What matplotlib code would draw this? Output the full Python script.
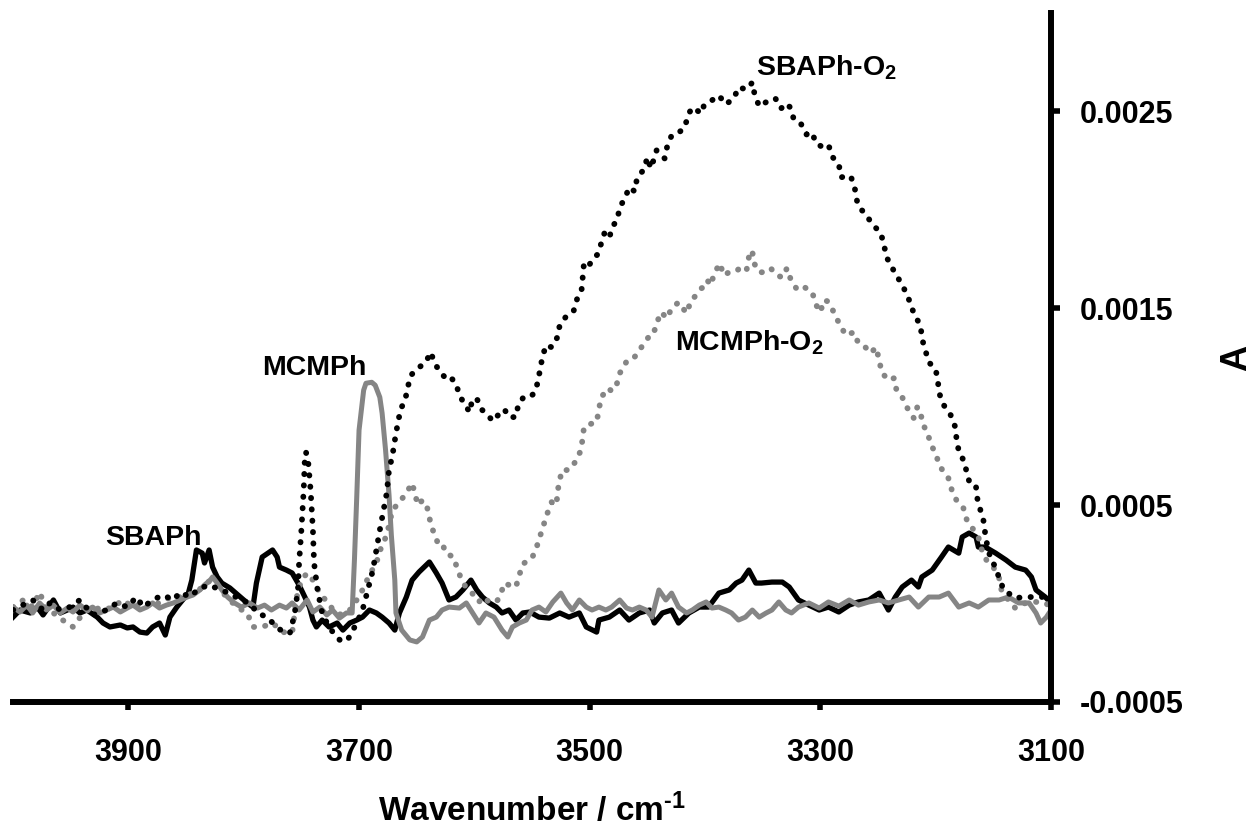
import numpy as np
import matplotlib
matplotlib.use("Agg")
import matplotlib.pyplot as plt

# IR difference spectra, absorbance values read in units of 1e-4
sbaph_wn = [4000, 3994, 3985, 3979, 3974, 3965, 3959, 3953, 3948, 3942,
            3936, 3927, 3922, 3916, 3907, 3901, 3896, 3890, 3884, 3879,
            3873, 3868, 3864, 3858, 3853, 3848, 3845, 3841, 3836, 3834,
            3830, 3827, 3823, 3819, 3812, 3803, 3797, 3792, 3789, 3784,
            3779, 3775, 3771, 3769, 3763, 3758, 3752, 3747, 3743, 3740,
            3737, 3732, 3726, 3719, 3714, 3708, 3702, 3697, 3691, 3685,
            3680, 3674, 3669, 3665, 3659, 3654, 3648, 3639, 3633, 3628,
            3622, 3616, 3610, 3603, 3598, 3593, 3587, 3581, 3576, 3570,
            3564, 3558, 3552, 3544, 3535, 3526, 3518, 3509, 3503, 3494,
            3492, 3483, 3474, 3466, 3457, 3448, 3444, 3437, 3429, 3423,
            3414, 3405, 3397, 3388, 3379, 3373, 3368, 3362, 3356, 3351,
            3342, 3333, 3327, 3319, 3310, 3301, 3293, 3284, 3275, 3267,
            3258, 3249, 3241, 3235, 3229, 3221, 3215, 3212, 3203, 3195,
            3189, 3180, 3177, 3171, 3165, 3163, 3157, 3148, 3139, 3131,
            3122, 3117, 3113, 3105, 3100]
sbaph_a = [-0.69, -0.33, -0.48, -0.18, -0.58, 0.18, -0.48, -0.33, -0.18, -0.48,
           -0.33, -0.69, -0.99, -1.19, -1.09, -1.24, -1.19, -1.45, -1.50, -1.19,
           -0.99, -1.60, -0.69, -0.18, 0.18, 0.53, 1.19, 2.72, 2.56, 2.06,
           2.72, 1.85, 1.35, 1.04, 0.79, 0.33, 0.03, -0.18, 1.04, 2.36,
           2.56, 2.72, 2.36, 1.85, 1.70, 1.55, 0.94, 0.33, -0.18, -0.84,
           -1.19, -0.84, -1.19, -0.99, -1.35, -0.99, -0.84, -0.69, -0.33, -0.48,
           -0.69, -0.99, -1.35, -0.48, 0.33, 1.19, 1.60, 2.11, 1.55, 1.04,
           0.18, 0.33, 0.69, 1.19, 0.69, 0.33, 0.03, -0.18, -0.48, -0.33,
           -0.84, -0.48, -0.43, -0.69, -0.74, -0.48, -0.69, -0.48, -1.19, -1.45,
           -0.84, -0.69, -0.33, -0.84, -0.48, -0.33, -0.99, -0.48, -0.33, -0.99,
           -0.48, -0.18, -0.18, 0.53, 0.69, 1.04, 1.19, 1.70, 1.04, 1.04,
           1.09, 1.09, 0.84, 0.18, -0.08, -0.33, -0.18, -0.43, -0.08, 0.08,
           0.18, 0.53, -0.33, 0.33, 0.84, 1.19, 0.84, 1.35, 1.70, 2.36,
           2.87, 2.56, 3.38, 3.58, 3.38, 2.87, 2.87, 2.56, 2.21, 1.85,
           1.70, 1.35, 0.69, 0.33, 0.03]

mcmph_wn = [4000, 3994, 3988, 3983, 3977, 3971, 3965, 3959, 3953, 3948,
            3942, 3936, 3931, 3925, 3919, 3913, 3907, 3901, 3896, 3890,
            3884, 3879, 3873, 3867, 3861, 3855, 3849, 3844, 3838, 3834,
            3829, 3827, 3823, 3819, 3814, 3808, 3802, 3795, 3788, 3782,
            3776, 3769, 3763, 3758, 3752, 3745, 3740, 3734, 3728, 3723,
            3717, 3711, 3706, 3704, 3702, 3700, 3696, 3694, 3689, 3686,
            3682, 3680, 3677, 3674, 3672, 3669, 3668, 3663, 3656, 3650,
            3645, 3639, 3633, 3628, 3622, 3613, 3607, 3602, 3596, 3590,
            3583, 3576, 3571, 3567, 3561, 3555, 3550, 3544, 3538, 3532,
            3525, 3520, 3515, 3509, 3503, 3498, 3492, 3486, 3481, 3474,
            3468, 3463, 3457, 3451, 3446, 3440, 3434, 3429, 3423, 3416,
            3411, 3405, 3399, 3394, 3388, 3382, 3377, 3371, 3365, 3359,
            3353, 3347, 3342, 3336, 3330, 3325, 3319, 3310, 3301, 3293,
            3284, 3275, 3267, 3258, 3249, 3241, 3232, 3223, 3215, 3206,
            3197, 3189, 3180, 3171, 3163, 3154, 3145, 3137, 3128, 3119,
            3113, 3109, 3104, 3100]
mcmph_a = [-0.18, -0.43, -0.08, -0.48, 0.03, -0.33, -0.08, -0.48, -0.23, -0.43,
           -0.08, -0.33, -0.18, -0.48, -0.33, -0.18, -0.43, -0.23, -0.08, -0.33,
           -0.18, 0.03, -0.23, -0.08, 0.03, 0.18, 0.33, 0.43, 0.69, 0.94,
           1.19, 1.35, 1.04, 0.69, 0.33, 0.03, -0.18, 0.03, -0.23, -0.08,
           -0.33, -0.08, -0.23, 0.03, -0.33, 0.18, -0.43, -0.18, -0.58, -0.33,
           -0.74, -0.48, -0.48, 2.21, 5.41, 8.81, 10.84, 11.19, 11.24, 11.09,
           10.48, 9.67, 7.79, 5.51, 3.48, 1.19, -0.48, -1.35, -1.85, -1.95,
           -1.70, -0.84, -0.69, -0.33, -0.18, -0.23, 0.03, -0.43, -0.99, -0.48,
           -0.69, -1.35, -1.70, -1.19, -0.99, -0.84, -0.33, -0.18, -0.43, 0.08,
           0.53, 0.03, -0.33, 0.18, -0.18, -0.33, -0.18, -0.33, -0.18, 0.18,
           -0.23, -0.33, -0.18, -0.33, -0.69, 0.69, 0.18, 0.53, -0.18, -0.48,
           -0.33, -0.08, 0.08, -0.23, -0.18, -0.33, -0.48, -0.84, -0.69, -0.33,
           -0.69, -0.48, -0.33, 0.08, -0.33, -0.48, -0.18, 0.03, -0.23, 0.08,
           -0.13, 0.18, -0.08, 0.08, 0.18, 0.03, 0.18, 0.33, -0.18, 0.33,
           0.33, 0.53, -0.18, 0.03, -0.18, 0.18, 0.18, 0.33, 0.03, 0.03,
           -0.48, -0.99, -0.69, -0.33]

sbaph_o2_wn = [4000, 3988, 3983, 3974, 3968, 3959, 3951, 3942, 3931, 3919,
               3910, 3901, 3893, 3887, 3879, 3870, 3861, 3855, 3847, 3838,
               3829, 3821, 3812, 3803, 3795, 3788, 3780, 3773, 3766, 3760,
               3756, 3753, 3752, 3750, 3748, 3747, 3746, 3744, 3742, 3740,
               3739, 3736, 3732, 3727, 3721, 3715, 3709, 3702, 3697, 3694,
               3688, 3682, 3676, 3674, 3671, 3668, 3664, 3660, 3658, 3655,
               3649, 3642, 3638, 3634, 3629, 3623, 3620, 3616, 3613, 3608,
               3604, 3602, 3598, 3594, 3589, 3584, 3578, 3574, 3570, 3564,
               3562, 3558, 3553, 3548, 3545, 3543, 3541, 3538, 3533, 3528,
               3526, 3521, 3514, 3511, 3507, 3506, 3505, 3501, 3497, 3493,
               3490, 3487, 3483, 3480, 3476, 3474, 3469, 3466, 3461, 3459,
               3453, 3450, 3447, 3445, 3442, 3435, 3433, 3429, 3424, 3418,
               3414, 3411, 3403, 3401, 3397, 3392, 3388, 3382, 3375, 3371,
               3364, 3359, 3357, 3353, 3346, 3339, 3334, 3330, 3326, 3323,
               3317, 3312, 3307, 3304, 3299, 3293, 3290, 3284, 3282, 3275,
               3273, 3270, 3268, 3265, 3261, 3255, 3248, 3245, 3243, 3238,
               3234, 3228, 3223, 3219, 3213, 3212, 3209, 3206, 3200, 3198,
               3197, 3193, 3187, 3183, 3182, 3180, 3175, 3173, 3170, 3165,
               3164, 3161, 3158, 3157, 3155, 3152, 3148, 3145, 3141, 3137,
               3131, 3122, 3117, 3108, 3100]
sbaph_o2_a = [-0.33, 0.03, 0.18, -0.33, 0.03, -0.33, -0.18, 0.18, -0.58, -0.33,
              0.03, -0.18, 0.33, -0.18, 0.18, 0.43, 0.18, 0.58, 0.33, 0.79,
              0.94, 0.69, 0.53, 0.18, 0.03, -0.48, -0.69, -1.09, -1.45, -1.50,
              -0.58, 0.69, 2.06, 3.73, 5.76, 7.39, 7.69, 7.13, 5.76, 3.73,
              2.06, 0.69, -0.48, -1.09, -1.60, -1.95, -1.75, -0.99, -0.33, 0.33,
              1.70, 3.73, 5.61, 6.78, 7.54, 8.65, 9.87, 10.33, 10.94, 11.60,
              11.95, 12.26, 12.77, 12.16, 11.70, 11.35, 11.45, 11.19, 10.58, 10.08,
              9.72, 10.33, 10.43, 9.87, 9.62, 9.26, 9.67, 9.87, 9.47, 9.47,
              10.08, 10.43, 10.43, 10.69, 11.24, 11.90, 12.51, 13.12, 13.02, 13.53,
              14.14, 14.54, 14.85, 15.46, 15.96, 16.62, 17.28, 17.13, 17.54, 17.74,
              18.30, 18.86, 18.60, 19.16, 19.52, 20.13, 20.63, 21.14, 20.94, 21.60,
              22.06, 22.66, 22.11, 22.46, 23.02, 22.61, 23.17, 23.78, 23.88, 24.14,
              24.90, 25.20, 24.90, 25.30, 25.41, 25.66, 25.81, 25.36, 25.66, 26.22,
              26.12, 26.47, 25.86, 25.25, 25.51, 25.66, 25.15, 25.41, 25.20, 24.59,
              24.39, 23.83, 23.93, 23.38, 23.22, 23.32, 22.72, 22.31, 21.65, 21.75,
              21.60, 21.04, 20.38, 20.03, 19.82, 19.26, 18.86, 18.30, 17.64, 17.08,
              16.68, 16.07, 15.41, 14.75, 14.09, 13.48, 12.87, 12.26, 11.90, 11.24,
              10.69, 10.08, 9.57, 8.96, 8.40, 7.74, 7.18, 6.62, 6.02, 5.91,
              5.36, 4.70, 4.09, 3.48, 2.87, 2.21, 1.85, 1.29, 0.69, 0.53,
              0.28, 0.33, 0.33, 0.33, 0.50]

mcmph_o2_wn = [4000, 3991, 3983, 3977, 3971, 3965, 3957, 3948, 3939, 3931,
               3922, 3913, 3905, 3896, 3887, 3879, 3870, 3861, 3853, 3844,
               3835, 3829, 3823, 3818, 3812, 3806, 3797, 3792, 3784, 3775,
               3766, 3758, 3754, 3750, 3745, 3740, 3734, 3727, 3721, 3715,
               3708, 3702, 3697, 3691, 3685, 3681, 3676, 3671, 3665, 3659,
               3654, 3649, 3645, 3641, 3639, 3636, 3632, 3628, 3625, 3618,
               3615, 3611, 3607, 3602, 3596, 3593, 3587, 3581, 3578, 3574,
               3570, 3564, 3561, 3558, 3550, 3546, 3543, 3540, 3537, 3533,
               3529, 3527, 3524, 3518, 3512, 3508, 3506, 3505, 3500, 3494,
               3492, 3490, 3484, 3481, 3477, 3474, 3471, 3468, 3463, 3459,
               3453, 3449, 3445, 3442, 3438, 3433, 3429, 3423, 3416, 3412,
               3410, 3403, 3401, 3398, 3395, 3392, 3387, 3384, 3379, 3373,
               3369, 3364, 3362, 3359, 3358, 3353, 3349, 3343, 3338, 3333,
               3329, 3326, 3321, 3316, 3310, 3307, 3304, 3300, 3297, 3294,
               3290, 3286, 3278, 3271, 3267, 3261, 3256, 3252, 3249, 3247,
               3241, 3236, 3234, 3229, 3225, 3219, 3216, 3213, 3212, 3207,
               3204, 3200, 3197, 3193, 3189, 3186, 3182, 3176, 3173, 3167,
               3163, 3160, 3156, 3150, 3145, 3143, 3139, 3131, 3122, 3113,
               3105, 3100]
mcmph_o2_a = [-0.18, 0.18, -0.18, 0.58, -0.33, -0.48, -0.84, -1.19, -0.48, -0.18,
              -0.33, -0.18, 0.18, -0.18, 0.03, -0.18, 0.18, 0.33, 0.33, 0.53,
              0.84, 1.19, 0.94, 0.53, 0.18, -0.18, -0.48, -1.19, -1.19, -0.99,
              -1.45, -1.50, 0.33, 1.19, 1.55, 1.19, 0.53, 0.03, -0.43, -0.58,
              -0.33, 0.18, 0.69, 1.45, 2.06, 2.82, 3.48, 4.75, 5.15, 5.61,
              6.12, 5.00, 5.25, 4.90, 4.34, 3.73, 3.12, 3.12, 2.56, 2.36,
              1.80, 1.19, 0.79, 0.53, 0.08, 0.33, 0.08, 0.08, 0.33, 1.04,
              0.94, 0.84, 1.45, 2.01, 2.31, 2.87, 3.43, 3.98, 4.54, 5.15,
              5.00, 6.02, 6.78, 6.78, 7.23, 7.74, 8.40, 8.96, 9.11, 9.21,
              9.87, 10.48, 10.94, 10.79, 11.04, 11.70, 11.95, 12.31, 12.41, 12.66,
              13.22, 13.53, 13.63, 14.24, 14.80, 14.49, 15.00, 15.30, 14.75, 15.41,
              15.51, 16.02, 16.07, 16.42, 16.17, 16.78, 17.28, 16.68, 16.83, 16.88,
              17.08, 16.93, 17.59, 17.94, 17.34, 16.83, 16.83, 17.03, 16.68, 16.57,
              17.03, 16.52, 16.02, 16.17, 15.91, 15.81, 15.20, 14.80, 15.41, 15.36,
              15.00, 14.49, 13.63, 13.78, 13.22, 13.02, 12.72, 13.02, 12.41, 11.75,
              11.35, 11.45, 10.84, 10.48, 9.97, 9.42, 9.97, 9.82, 9.21, 8.65,
              8.05, 7.64, 7.03, 6.68, 6.37, 5.76, 5.25, 4.85, 4.24, 3.73,
              3.38, 2.72, 2.21, 1.85, 1.29, 0.69, 0.33, -0.23, 0.03, 0.08,
              0.03, -0.18]

ytick_vals = [-0.0005, 0.0005, 0.0015, 0.0025]
ytick_labels = ['-0.0005', '0.0005', '0.0015', '0.0025']
xtick_vals = [3900, 3700, 3500, 3300, 3100]

plt.rcParams['font.family'] = ['Liberation Sans', 'DejaVu Sans']
plt.rcParams['font.weight'] = 'bold'
plt.rcParams['mathtext.fontset'] = 'custom'
plt.rcParams['mathtext.rm'] = 'Liberation Sans:bold'
plt.rcParams['mathtext.bf'] = 'Liberation Sans:bold'
plt.rcParams['mathtext.default'] = 'bf'

fig = plt.figure(figsize=(12.56, 8.32), dpi=100)
ax = fig.add_axes([0.0104, 0.1563, 0.8264, 0.8281])

grey = '#858585'
dots = (0, (0.05, 1.9))
scale = 1e-4

ax.plot(sbaph_wn, np.array(sbaph_a) * scale, color='black', lw=3.8,
        solid_joinstyle='round')
ax.plot(mcmph_wn, np.array(mcmph_a) * scale, color=grey, lw=3.6,
        solid_joinstyle='round')
ax.plot(mcmph_o2_wn, np.array(mcmph_o2_a) * scale, color=grey, lw=4.2,
        linestyle=dots, dash_capstyle='round')
ax.plot(sbaph_o2_wn, np.array(sbaph_o2_a) * scale, color='black', lw=4.2,
        linestyle=dots, dash_capstyle='round')

ax.set_xlim(4000, 3100)
ax.set_ylim(-0.0005, 0.003)

for s in ['top', 'left']:
    ax.spines[s].set_visible(False)
for s in ['bottom', 'right']:
    ax.spines[s].set_linewidth(4.3)
    ax.spines[s].set_capstyle('projecting')

ax.yaxis.tick_right()
ax.yaxis.set_label_position('right')
ax.set_xticks(xtick_vals)
ax.set_xticklabels([str(v) for v in xtick_vals])
ax.set_yticks(ytick_vals)
ax.set_yticklabels(ytick_labels)
ax.tick_params(axis='x', direction='out', length=6, width=4, pad=20,
               labelsize=22)
ax.tick_params(axis='y', direction='out', length=6.5, width=4, pad=14,
               labelsize=22)

ax.set_xlabel(r'Wavenumber / cm$^{\text{-}1}$', fontsize=24, fontweight='bold',
              labelpad=18)
ax.set_ylabel('A', fontsize=26, fontweight='bold', labelpad=26)

ax.text(3920, 2.97e-4, 'SBAPh', fontsize=20.5, fontweight='bold', va='baseline')
ax.text(3784, 11.6e-4, 'MCMPh', fontsize=20.5, fontweight='bold', va='baseline')
ax.text(3356, 26.83e-4, 'SBAPh-O$_2$', fontsize=20.5, fontweight='bold',
        va='baseline')
ax.text(3426, 12.87e-4, 'MCMPh-O$_2$', fontsize=20.5, fontweight='bold',
        va='baseline')

fig.savefig('out.png', dpi=100)
